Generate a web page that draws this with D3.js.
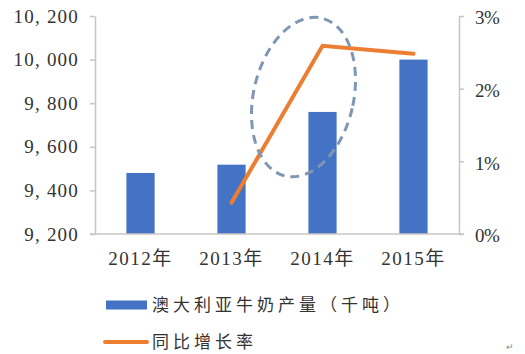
<!DOCTYPE html>
<html>
<head>
<meta charset="utf-8">
<script src="https://cdn.jsdelivr.net/npm/d3@7/dist/d3.min.js"></script>
<style>
body { margin: 0; background: #fff; }
</style>
</head>
<body>
<div id="chart"></div>
<script>
// data
var years = ["2012年", "2013年", "2014年", "2015年"];
var milkOutput = [9480, 9518, 9760, 10000];      // 千吨
var growthRate = [null, 0.43, 2.59, 2.48];       // %
var leftTicks = [9200, 9400, 9600, 9800, 10000, 10200];
var rightTicks = [0, 1, 2, 3];
var legendNames = ["澳大利亚牛奶产量（千吨）", "同比增长率"];

var width = 525, height = 354;
var margin = {top: 16, right: 66, bottom: 120, left: 95};
var innerW = width - margin.left - margin.right;
var innerH = height - margin.top - margin.bottom;

var barColor = "#4472C4", lineColor = "#ED7D31", axisColor = "#C6C6C6";
var numFont = "'Liberation Serif', 'Noto Sans CJK SC', serif";
var cjkFont = "'Noto Sans CJK SC', sans-serif";

var svg = d3.select("#chart").append("svg")
	.attr("width", width)
	.attr("height", height);

var g = svg.append("g")
	.attr("transform", "translate(" + margin.left + "," + margin.top + ")");

var x = d3.scaleBand()
	.domain(years)
	.range([0, innerW])
	.paddingInner(0.69)
	.paddingOuter(0.345);

var yLeft = d3.scaleLinear().domain([9200, 10200]).range([innerH, 0]);
var yRight = d3.scaleLinear().domain([0, 3]).range([innerH, 0]);

// bars
g.selectAll("rect.bar")
	.data(milkOutput)
	.enter().append("rect")
	.attr("class", "bar")
	.attr("x", function(d, i) { return x(years[i]); })
	.attr("width", x.bandwidth())
	.attr("y", function(d) { return yLeft(d); })
	.attr("height", function(d) { return innerH - yLeft(d); })
	.style("fill", barColor);

// axes
var leftAxis = g.append("g")
	.call(d3.axisLeft(yLeft).tickValues(leftTicks).tickSize(5).tickSizeOuter(0)
		.tickFormat(function(d) { return d3.format(",")(d).replace(",", ", "); }));
var rightAxis = g.append("g")
	.attr("transform", "translate(" + innerW + ",0)")
	.call(d3.axisRight(yRight).tickValues(rightTicks).tickSize(5).tickSizeOuter(0)
		.tickFormat(function(d) { return d + "%"; }));
var bottomAxis = g.append("g")
	.attr("transform", "translate(0," + innerH + ")")
	.call(d3.axisBottom(x).tickSize(0).tickPadding(18));

[leftAxis, rightAxis, bottomAxis].forEach(function(a) {
	a.selectAll("path, line").attr("stroke", axisColor).attr("stroke-width", 1.5);
	a.selectAll("text")
		.style("font-family", numFont)
		.style("font-size", "19px")
		.style("fill", "#333");
});
leftAxis.selectAll("text").attr("x", -16).style("letter-spacing", "1.2px");
rightAxis.selectAll("text").attr("x", 16).attr("dy", "0.42em").style("letter-spacing", "-0.5px");
bottomAxis.selectAll("text").style("letter-spacing", "1.5px");
// bottom line runs under the left/right tick stubs too
bottomAxis.select("path.domain").attr("d", "M-5,0H" + (innerW + 5));

// growth line
var line = d3.line()
	.defined(function(d) { return d != null; })
	.x(function(d, i) { return x(years[i]) + x.bandwidth() / 2; })
	.y(function(d) { return yRight(d); });

g.append("path")
	.datum(growthRate)
	.attr("d", line)
	.style("fill", "none")
	.style("stroke", lineColor)
	.style("stroke-width", 4)
	.style("stroke-linecap", "round")
	.style("stroke-linejoin", "miter");

// dashed highlight ring around the 2013-2014 jump
var ringX = x("2014年") + x.bandwidth() / 2 - 19;
var ringY = yLeft(9828);
g.append("ellipse")
	.attr("cx", ringX)
	.attr("cy", ringY)
	.attr("rx", 50)
	.attr("ry", 81)
	.attr("transform", "rotate(13," + ringX + "," + ringY + ")")
	.style("fill", "none")
	.style("stroke", "#8097B4")
	.style("stroke-width", 3)
	.style("stroke-dasharray", "9,6");

// legend
var legend = svg.append("g").attr("transform", "translate(104,305)");
legend.append("rect")
	.attr("x", 2).attr("y", -4.5)
	.attr("width", 41).attr("height", 9)
	.style("fill", barColor);
legend.append("line")
	.attr("x1", 1).attr("x2", 43)
	.attr("y1", 37).attr("y2", 37)
	.style("stroke", lineColor)
	.style("stroke-width", 4)
	.style("stroke-linecap", "round");
legend.selectAll("text")
	.data(legendNames)
	.enter().append("text")
	.attr("x", 48)
	.attr("y", function(d, i) { return i * 37; })
	.attr("dy", "0.36em")
	.style("font-family", cjkFont)
	.style("font-size", "17px")
	.style("letter-spacing", "4px")
	.style("fill", "#333")
	.text(function(d) { return d; });

// word-processor return mark
svg.append("text")
	.attr("x", 506).attr("y", 350)
	.style("font-family", cjkFont)
	.style("font-size", "9px")
	.style("fill", "#888")
	.text("↵");
</script>
</body>
</html>
